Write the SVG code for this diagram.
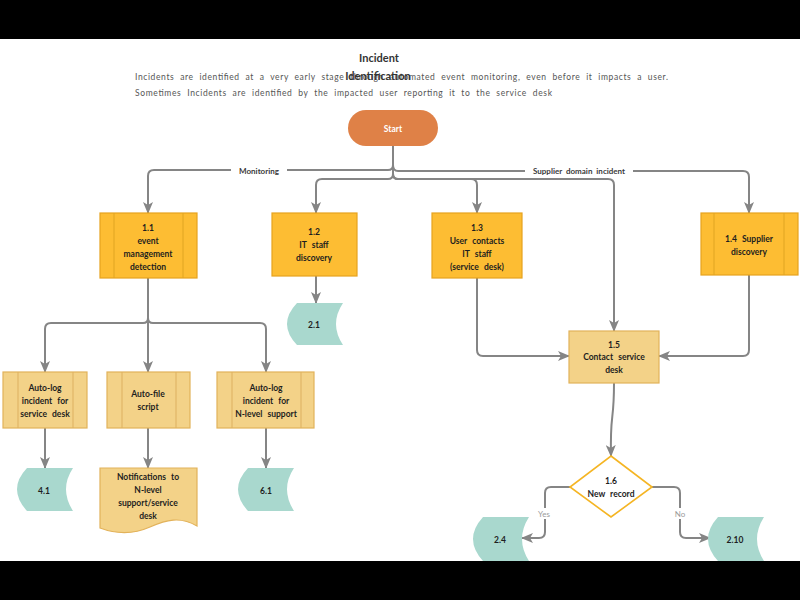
<svg xmlns="http://www.w3.org/2000/svg" width="800" height="600" viewBox="0 0 800 600">
<style>
  .lbl { font-family: Lato, "Open Sans", sans-serif; font-weight: bold; font-size: 8.5px; fill: #1e1e1e; text-anchor: middle; word-spacing: 3px; }
  .conn { fill: none; stroke: #858585; stroke-width: 2; }
  .dark { fill: #FDBD33; stroke: #E6A21E; stroke-width: 1.2; }
  .light { fill: #F3D288; stroke: #E2B25A; stroke-width: 1.2; }
  .inner { fill: none; stroke: #E0A523; stroke-width: 1; }
  .innerL { fill: none; stroke: #DDB060; stroke-width: 1; }
  .teal { fill: #A9D8CE; stroke: none; }
  .elbl { font-family: Lato, "Open Sans", sans-serif; font-weight: bold; font-size: 8px; fill: #3a3a3a; text-anchor: middle; word-spacing: 2px; }
  .yn { font-family: Lato, "Open Sans", sans-serif; font-size: 8px; fill: #9a9a9a; text-anchor: middle; }
  .para { font-family: Lato, "Open Sans", sans-serif; font-size: 8.5px; fill: #555; word-spacing: 3px; }
  .title { font-family: Lato, "Open Sans", sans-serif; font-weight: bold; font-size: 11px; fill: #333; text-anchor: middle; }
</style>
<defs>
  <marker id="arr" viewBox="0 0 12 10" markerWidth="12" markerHeight="10" refX="11" refY="5" orient="auto" markerUnits="userSpaceOnUse">
    <path d="M0,0 L12,5 L0,10 L3,5 Z" fill="#858585"/>
  </marker>
</defs>
<rect x="0" y="0" width="800" height="600" fill="#ffffff"/>
<rect x="0" y="0" width="800" height="39" fill="#000"/>

<g id="header">
  <text class="title" x="379" y="62">Incident</text>
  <text class="para" x="135" y="80" textLength="533" lengthAdjust="spacing">Incidents are identified at a very early stage through automated event monitoring, even before it impacts a user.</text>
  <text class="title" x="378" y="80">Identification</text>
  <text class="para" x="135" y="96" textLength="417" lengthAdjust="spacing">Sometimes Incidents are identified by the impacted user reporting it to the service desk</text>
</g>

<g id="connectors">
  <path class="conn" d="M393,146 V165 Q393,170 388,170 H154 Q148,170 148,176 V213" marker-end="url(#arr)"/>
  <path class="conn" d="M393,146 V165 Q393,171 398,171 H743 Q749,171 749,177 V213" marker-end="url(#arr)"/>
  <path class="conn" d="M393,146 V174 Q393,179 388,179 H322 Q316,179 316,185 V213" marker-end="url(#arr)"/>
  <path class="conn" d="M393,146 V174 Q393,179 398,179 H471 Q477,179 477,185 V213" marker-end="url(#arr)"/>
  <path class="conn" d="M393,146 V174 Q393,179 398,179 H608 Q614,179 614,185 V331" marker-end="url(#arr)"/>
  <rect x="231" y="164" width="56" height="12" fill="#fff"/>
  <text class="elbl" x="259" y="174">Monitoring</text>
  <rect x="525" y="164" width="108" height="12" fill="#fff"/>
  <text class="elbl" x="579" y="174">Supplier domain incident</text>

  <path class="conn" d="M316,276 V303" marker-end="url(#arr)"/>
  <path class="conn" d="M148,278 V318 Q148,323 143,323 H51 Q45,323 45,329 V372" marker-end="url(#arr)"/>
  <path class="conn" d="M148,278 V372" marker-end="url(#arr)"/>
  <path class="conn" d="M148,278 V318 Q148,323 153,323 H260 Q266,323 266,329 V372" marker-end="url(#arr)"/>
  <path class="conn" d="M45,428 V468" marker-end="url(#arr)"/>
  <path class="conn" d="M148,428 V468" marker-end="url(#arr)"/>
  <path class="conn" d="M266,428 V468" marker-end="url(#arr)"/>

  <path class="conn" d="M477,278 V350 Q477,356 483,356 H569" marker-end="url(#arr)"/>
  <path class="conn" d="M749,275 V350 Q749,356 743,356 H659" marker-end="url(#arr)"/>
  <path class="conn" d="M614,383 C614,425 610,410 611,456" marker-end="url(#arr)"/>
  <path class="conn" d="M570,487 H551 Q545,487 545,493 V532 Q545,538 539,538 H522" marker-end="url(#arr)"/>
  <path class="conn" d="M652,487 H674 Q680,487 680,493 V532 Q680,538 686,538 H710" marker-end="url(#arr)"/>
  <rect x="535" y="508" width="18" height="11" fill="#fff"/>
  <text class="yn" x="544" y="517">Yes</text>
  <rect x="672" y="508" width="16" height="11" fill="#fff"/>
  <text class="yn" x="680" y="517">No</text>
</g>

<g id="start">
  <rect x="348" y="110" width="90" height="36" rx="18" fill="#DF8147"/>
  <text class="lbl" x="393" y="132" style="fill:#fff">Start</text>
</g>

<g id="n1_1">
  <rect class="dark" x="100" y="213" width="97" height="65"/>
  <path class="inner" d="M114,213 V278 M183,213 V278"/>
  <text class="lbl" x="148" y="231">1.1</text>
  <text class="lbl" x="148" y="244">event</text>
  <text class="lbl" x="148" y="257">management</text>
  <text class="lbl" x="148" y="270">detection</text>
</g>
<g id="n1_2">
  <rect class="dark" x="272" y="213" width="85" height="63"/>
  <text class="lbl" x="314" y="235">1.2</text>
  <text class="lbl" x="314" y="248">IT staff</text>
  <text class="lbl" x="314" y="261">discovery</text>
</g>
<g id="n1_3">
  <rect class="dark" x="432" y="213" width="90" height="65"/>
  <text class="lbl" x="477" y="231">1.3</text>
  <text class="lbl" x="477" y="244">User contacts</text>
  <text class="lbl" x="477" y="257">IT staff</text>
  <text class="lbl" x="477" y="270">(service desk)</text>
</g>
<g id="n1_4">
  <rect class="dark" x="701" y="213" width="97" height="62"/>
  <path class="inner" d="M714,213 V275 M784,213 V275"/>
  <text class="lbl" x="749" y="242">1.4 Supplier</text>
  <text class="lbl" x="749" y="255">discovery</text>
</g>
<g id="n2_1">
  <path class="teal" d="M297,303 H343 Q329,324 343,345 H297 Q277,324 297,303 Z"/>
  <text class="lbl" x="314" y="328">2.1</text>
</g>
<g id="n_autolog_sd">
  <rect class="light" x="3" y="372" width="84" height="56"/>
  <path class="innerL" d="M18,372 V428 M73,372 V428"/>
  <text class="lbl" x="45" y="391">Auto-log</text>
  <text class="lbl" x="45" y="404">incident for</text>
  <text class="lbl" x="45" y="417">service desk</text>
</g>
<g id="n_autofile">
  <rect class="light" x="107" y="372" width="83" height="56"/>
  <path class="innerL" d="M122,372 V428 M176,372 V428"/>
  <text class="lbl" x="148" y="397">Auto-file</text>
  <text class="lbl" x="148" y="410">script</text>
</g>
<g id="n_autolog_nl">
  <rect class="light" x="217" y="372" width="97" height="56"/>
  <path class="innerL" d="M232,372 V428 M301,372 V428"/>
  <text class="lbl" x="266" y="391">Auto-log</text>
  <text class="lbl" x="266" y="404">incident for</text>
  <text class="lbl" x="266" y="417">N-level support</text>
</g>
<g id="n4_1">
  <path class="teal" d="M27,468 H73 Q59,489 73,511 H27 Q7,489 27,468 Z"/>
  <text class="lbl" x="44" y="494">4.1</text>
</g>
<g id="n_notif">
  <path class="light" d="M100,468 H197 V526 C180,516 166,520 150,527 C132,535 116,534 100,528 Z"/>
  <text class="lbl" x="148" y="480">Notifications to</text>
  <text class="lbl" x="148" y="493">N-level</text>
  <text class="lbl" x="148" y="506">support/service</text>
  <text class="lbl" x="148" y="519">desk</text>
</g>
<g id="n6_1">
  <path class="teal" d="M248,468 H294 Q280,489 294,511 H248 Q228,489 248,468 Z"/>
  <text class="lbl" x="266" y="494">6.1</text>
</g>
<g id="n1_5">
  <rect class="light" x="569" y="331" width="90" height="52"/>
  <text class="lbl" x="614" y="348">1.5</text>
  <text class="lbl" x="614" y="360">Contact service</text>
  <text class="lbl" x="614" y="373">desk</text>
</g>
<g id="n1_6">
  <path d="M611,456 L652,487 L611,517 L570,487 Z" fill="#fff" stroke="#F5B523" stroke-width="1.6"/>
  <text class="lbl" x="611" y="484">1.6</text>
  <text class="lbl" x="611" y="497">New record</text>
</g>
<g id="n2_4">
  <path class="teal" d="M483,517 H529 Q515,539 529,561 H483 Q463,539 483,517 Z"/>
  <text class="lbl" x="500" y="543">2.4</text>
</g>
<g id="n2_10">
  <path class="teal" d="M718,517 H764 Q750,539 764,561 H718 Q698,539 718,517 Z"/>
  <text class="lbl" x="735" y="543">2.10</text>
</g>
<rect x="0" y="561" width="800" height="39" fill="#000"/>
</svg>
